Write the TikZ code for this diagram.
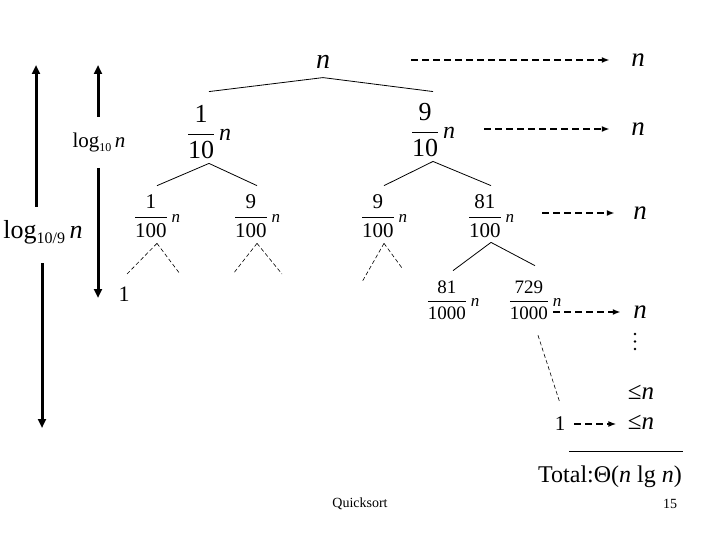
\RequirePackage{fix-cm}
\documentclass[tikz,border=0pt]{standalone}
\usepackage{fontspec}
\setmainfont{Liberation Serif}
\usetikzlibrary{arrows.meta}
\newcommand{\fs}[1]{\fontsize{#1}{#1}\selectfont}
% #1 digit size, #2 n size, #3 numerator, #4 denominator
\newcommand{\fracn}[4]{\fs{#1}$\displaystyle\frac{\mbox{#3}}{\mbox{#4}}\mbox{\kern4pt\fs{#2}\itshape n}$}
\tikzset{
  every node/.style={inner sep=0pt, outer sep=0pt},
  tedge/.style={line width=0.8pt},
  leafedge/.style={line width=0.6pt, dash pattern=on 4pt off 2.5pt},
  darr/.style={line width=1.8pt, dash pattern=on 7pt off 4pt, -{Latex[length=8pt,width=6pt]}},
  bigarr/.style={line width=3pt, -{Triangle[length=9pt,width=8pt]}},
}
\begin{document}
\begin{tikzpicture}[x=1pt,y=-1pt]
\useasboundingbox (0,0) rectangle (720,540);
% tree nodes
\node (root) at (323,62) {\fs{28}\itshape n};
\node (l1a) at (209,132) {\fracn{26}{24}{1}{10}};
\node (l1b) at (433,130) {\fracn{26}{24}{9}{10}};
\node (A) at (157,216) {\fracn{21}{17}{1}{100}};
\node (B) at (257,216) {\fracn{21}{17}{9}{100}};
\node (C) at (384,216) {\fracn{21}{17}{9}{100}};
\node (D) at (491,216) {\fracn{21}{17}{81}{100}};
\node (E) at (453,300) {\fracn{19}{17}{81}{1000}};
\node (F) at (535,300) {\fracn{19}{17}{729}{1000}};
\node (one) at (560,424) {\fs{21}1};
\node (oneL) at (124,294) {\fs{22}1};
% tree edges
\draw[tedge] ([yshift=-9pt]root.south) -- ([yshift=14pt]l1a.north);
\draw[tedge] ([yshift=-9pt]root.south) -- ([yshift=12pt]l1b.north);
\draw[tedge] ([yshift=-5pt]l1a.south) -- ([yshift=9pt]A.north);
\draw[tedge] ([yshift=-5pt]l1a.south) -- ([yshift=9pt]B.north);
\draw[tedge] ([yshift=-5pt]l1b.south) -- ([yshift=9pt]C.north);
\draw[tedge] ([yshift=-5pt]l1b.south) -- ([yshift=9pt]D.north);
\draw[tedge] ([yshift=-5pt]D.south) -- ([yshift=10pt]E.north);
\draw[tedge] ([yshift=-5pt]D.south) -- ([yshift=15pt]F.north);
% dashed leaves
\coordinate (a1) at (127,274); \coordinate (a2) at (180,274);
\coordinate (b1) at (233,274); \coordinate (b2) at (282,274);
\coordinate (c1) at (362,282); \coordinate (c2) at (402,268);
\draw[leafedge] ([yshift=-6pt]A.south) -- (a1);
\draw[leafedge] ([yshift=-6pt]A.south) -- (a2);
\draw[leafedge] ([yshift=-6pt]B.south) -- (b1);
\draw[leafedge] ([yshift=-6pt]B.south) -- (b2);
\draw[leafedge] ([yshift=-6pt]C.south) -- (c1);
\draw[leafedge] ([yshift=-6pt]C.south) -- (c2);
\draw[leafedge] ([xshift=3pt,yshift=-16pt]F.south) -- ([yshift=14pt]one.north);
% right column
\node (rn1) at (638,60) {\fs{27}\itshape n};
\node (rn2) at (638,129) {\fs{27}\itshape n};
\node (rn3) at (640,213) {\fs{27}\itshape n};
\node (rn4) at (640,312) {\fs{27}\itshape n};
\node (le1) at (641,392) {\fs{25}≤\itshape n};
\node (le2) at (641,422) {\fs{25}≤\itshape n};
\coordinate (r1s) at (411,60);
\coordinate (r2s) at (484,129);
\coordinate (r3s) at (542,213);
\draw[darr, shorten >=21.5pt] (r1s) -- (r1s -| rn1.west);
\draw[darr, shorten >=21.5pt] (r2s) -- (r2s -| rn2.west);
\draw[darr, shorten >=18.5pt] (r3s) -- (r3s -| rn3.west);
\draw[darr, shorten >=12.5pt] ([xshift=-8pt,yshift=-12pt]F.east) -- ([yshift=-12pt]F.east -| rn4.west);
\draw[darr, shorten <=9pt, shorten >=11.5pt] (one.east) -- (one.east -| le2.west);
\fill (635,334) circle (1.3);
\fill (635,341.5) circle (1.3);
\fill (635,349) circle (1.3);
% total
\coordinate (hl1) at (569,451); \coordinate (hl2) at (683,451);
\draw[line width=0.8pt] (hl1) -- (hl2);
\node (tot) at (610,477) {\fs{24}Total:Θ(\textit{n} lg \textit{n})};
% left arrows
\node (lg109) at (43,232) {\fs{26}log\raisebox{-5pt}{\fs{16}10/9}\,\textit{n}};
\node (lg10) at (99,142) {\fs{21}log\raisebox{-4pt}{\fs{12}10}\,\textit{n}};
\coordinate (a1t) at (36,65); \coordinate (a1m) at (36,207);
\coordinate (a1n) at (42,263); \coordinate (a1b) at (42,428);
\coordinate (a2t) at (98,65); \coordinate (a2m) at (98,117);
\coordinate (a2n) at (98,168); \coordinate (a2b) at (98,298);
\draw[bigarr] (a1m) -- (a1t);
\draw[bigarr] (a1n) -- (a1b);
\draw[bigarr] (a2m) -- (a2t);
\draw[bigarr] (a2n) -- (a2b);
% footer
\node (qs) at (360,504) {\fs{14}Quicksort};
\node (pg) at (670,504) {\fs{14}15};
\end{tikzpicture}
\end{document}
